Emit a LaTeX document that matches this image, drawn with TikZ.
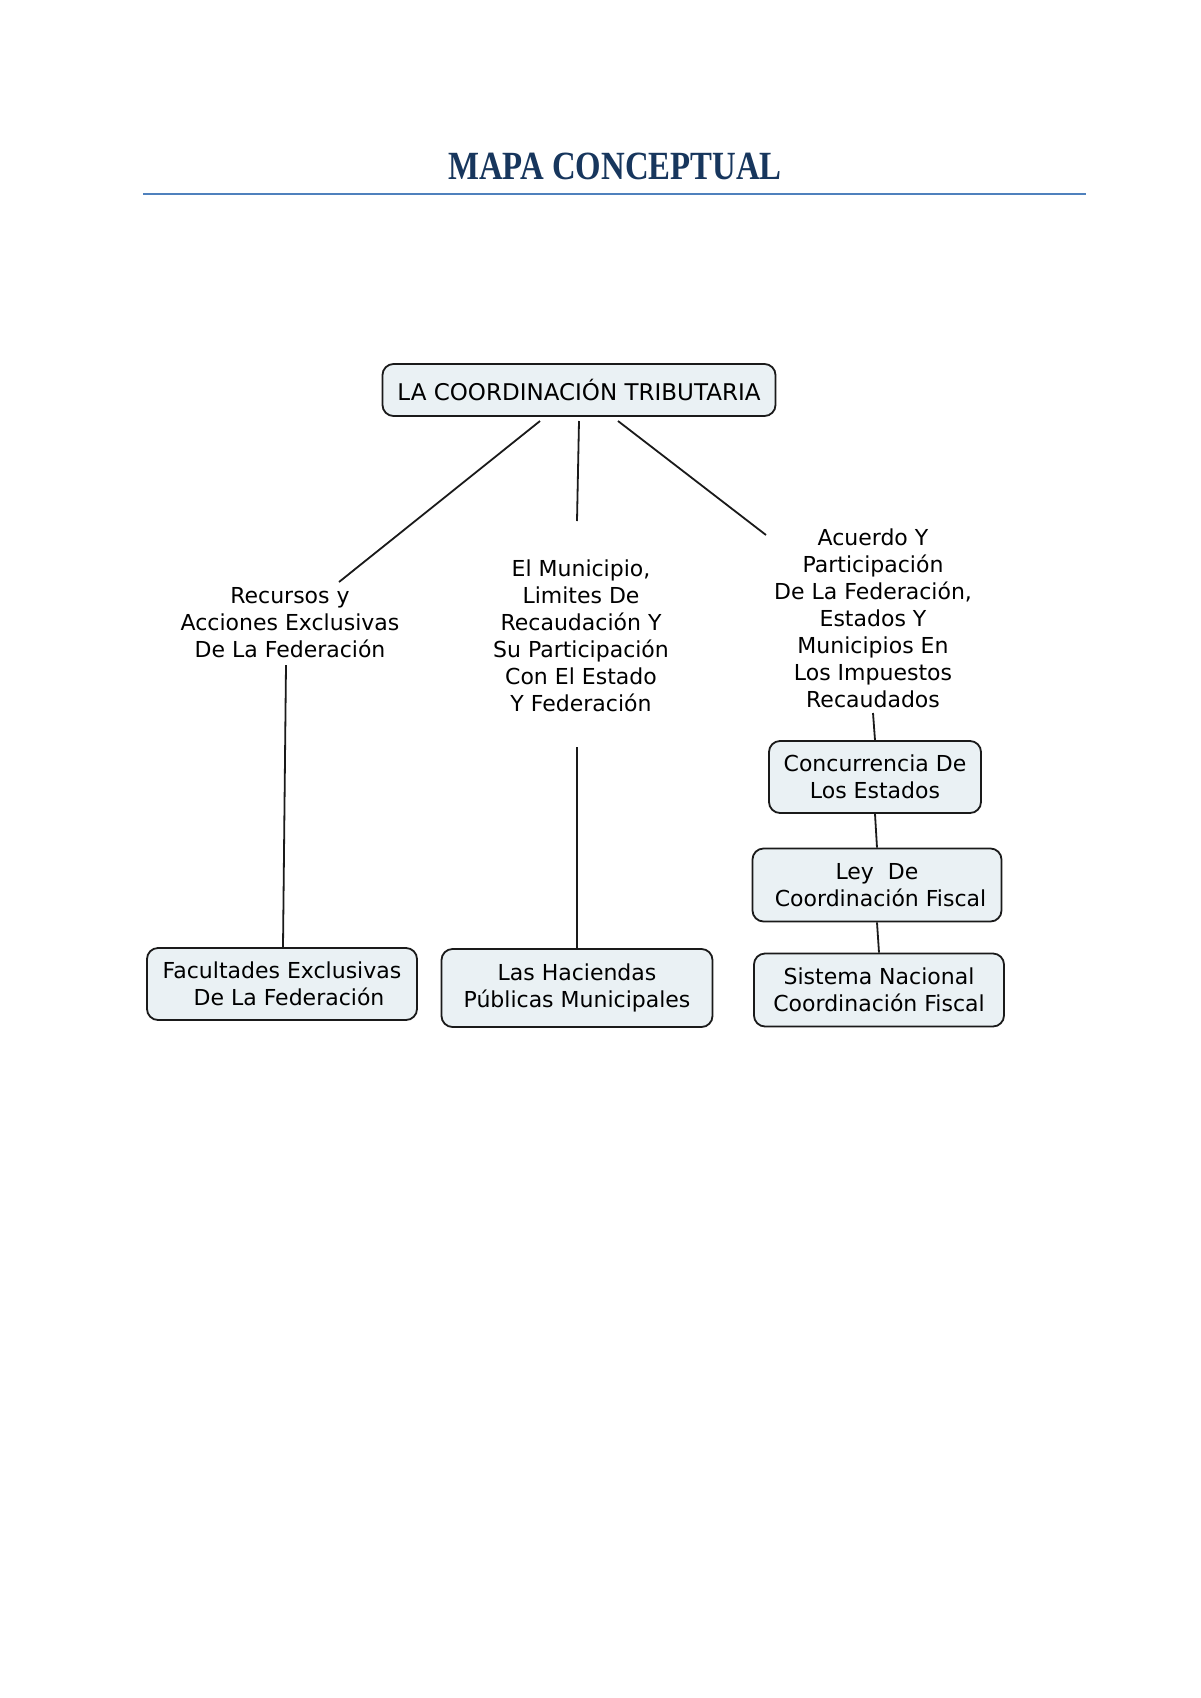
\documentclass[tikz,border=0pt]{standalone}
\usepackage{fontspec}
\setmainfont{DejaVu Sans}
\newfontfamily\titlefont{Liberation Serif}
\definecolor{titleblue}{HTML}{17365D}
\definecolor{ruleblue}{HTML}{4F81BD}
\definecolor{boxfill}{HTML}{EAF1F4}
\definecolor{edge}{HTML}{1A1A1A}
\begin{document}
\begin{tikzpicture}[x=1pt,y=-1pt,
  concept/.style={draw=edge,line width=1.8pt,rounded corners=11pt,fill=boxfill,
    align=center,inner sep=0pt,font=\fontsize{22}{26.5}\selectfont},
  plain/.style={align=center,inner sep=0pt,font=\fontsize{22}{27}\selectfont},
  link/.style={draw=edge,line width=1.8pt}]
\useasboundingbox[fill=white] (0,0) rectangle (1200,1698);
% title
\node[font=\titlefont\bfseries\fontsize{40}{44}\selectfont,text=titleblue] (title) at (615,166)
  {\scalebox{0.82}[1]{MAPA CONCEPTUAL}};
\draw[ruleblue,line width=2pt] (143,194) coordinate (r1) -- (1086,194) coordinate (r2);
% top
\node[concept,font=\fontsize{23}{27}\selectfont,minimum width=393pt,minimum height=52pt] (top) at (579,390) {LA COORDINACIÓN TRIBUTARIA};
% labels
\node[plain] (left) at (290,623) {Recursos y\\Acciones Exclusivas\\De La Federación};
\node[plain] (mid) at (581,636) {El Municipio,\\Limites De\\Recaudación Y\\Su Participación\\Con El Estado\\Y Federación};
\node[plain] (right) at (873,618) {Acuerdo Y\\Participación\\De La Federación,\\Estados Y\\Municipios En\\Los Impuestos\\Recaudados};
% boxes
\node[concept,minimum width=270pt,minimum height=72pt] (fac) at (282,984) {Facultades Exclusivas\\\ \ De La Federación};
\node[concept,minimum width=271pt,minimum height=78pt] (hac) at (577,988) {Las Haciendas\\Públicas Municipales};
\node[concept,minimum width=212pt,minimum height=72pt] (con) at (875,777) {Concurrencia De\\Los Estados};
\node[concept,minimum width=249pt,minimum height=73pt] (ley) at (877,885) {Ley\ \ De\\\ Coordinación Fiscal};
\node[concept,minimum width=250pt,minimum height=73pt] (sis) at (879,990) {Sistema Nacional\\Coordinación Fiscal};
% connectors
\coordinate (a1) at (540,421); \coordinate (a2) at (339,582);
\coordinate (b1) at (579,421); \coordinate (b2) at (577,521);
\coordinate (c1) at (618,421); \coordinate (c2) at (766,535);
\draw[link] (a1) -- (a2);
\draw[link] (b1) -- (b2);
\draw[link] (c1) -- (c2);
\coordinate (d1) at (286,665);
\draw[link] (d1) -- (fac.north -| 283,0);
\coordinate (e1) at (577,747);
\draw[link] (e1) -- (hac.north);
\coordinate (f1) at (873,713);
\draw[link] (f1) -- (con.north);
\draw[link] (con.south) -- (ley.north);
\draw[link] (ley.south) -- (sis.north);
\end{tikzpicture}
\end{document}
